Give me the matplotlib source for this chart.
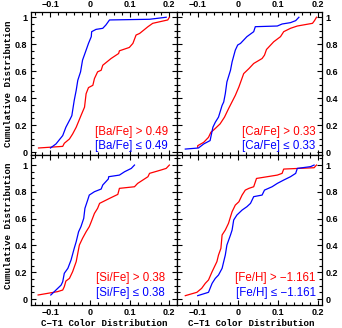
import numpy as np
import matplotlib
matplotlib.use("Agg")
import matplotlib.pyplot as plt
from matplotlib.ticker import MultipleLocator, FuncFormatter

# cumulative distributions (C-T1 colour, cumulative fraction)
ba_hi_x = [-0.130, -0.069, -0.065, -0.052, -0.044, -0.035, -0.023, -0.014, -0.010, -0.004, 0.007, 0.011,
           0.019, 0.028, 0.032, 0.053, 0.072, 0.074, 0.099, 0.108, 0.116, 0.125, 0.146, 0.158, 0.196, 0.200]
ba_hi_y = [0.030, 0.042, 0.065, 0.097, 0.134, 0.184, 0.270, 0.333, 0.433, 0.478, 0.495, 0.545,
           0.595, 0.607, 0.644, 0.694, 0.731, 0.751, 0.776, 0.806, 0.868, 0.880, 0.930, 0.955, 0.980, 1.000]
ba_lo_x = [-0.100, -0.086, -0.069, -0.061, -0.050, -0.046, -0.040, -0.035, -0.031, -0.024, -0.019, -0.010,
           -0.004, 0.003, 0.004, 0.015, 0.032, 0.040, 0.049, 0.150, 0.192]
ba_lo_y = [0.030, 0.060, 0.122, 0.184, 0.246, 0.270, 0.383, 0.458, 0.532, 0.595, 0.682, 0.756,
           0.806, 0.856, 0.893, 0.910, 0.918, 0.943, 0.980, 0.985, 1.000]

ca_hi_x = [-0.100, -0.100, -0.085, -0.073, -0.067, -0.060, -0.044, -0.033, -0.023, -0.006, 0.003, 0.015,
           0.028, 0.040, 0.061, 0.067, 0.072, 0.090, 0.107, 0.115, 0.132, 0.149, 0.187, 0.192, 0.197]
ca_hi_y = [0.035, 0.047, 0.072, 0.109, 0.147, 0.164, 0.209, 0.259, 0.321, 0.420, 0.483, 0.582,
           0.619, 0.657, 0.694, 0.719, 0.761, 0.818, 0.856, 0.893, 0.918, 0.935, 0.955, 0.975, 1.000]
ca_lo_x = [-0.131, -0.098, -0.085, -0.069, -0.062, -0.056, -0.048, -0.039, -0.035, -0.031, -0.027, -0.018,
           -0.014, -0.006, 0.000, 0.007, 0.023, 0.040, 0.044, 0.099, 0.111, 0.132, 0.145, 0.153]
ca_lo_y = [0.022, 0.030, 0.060, 0.085, 0.184, 0.221, 0.259, 0.346, 0.371, 0.433, 0.520, 0.607,
           0.669, 0.756, 0.794, 0.806, 0.856, 0.893, 0.930, 0.935, 0.950, 0.960, 0.975, 1.000]

si_hi_x = [-0.131, -0.082, -0.069, -0.065, -0.061, -0.052, -0.044, -0.035, -0.027, -0.019, -0.010, -0.002,
           0.003, 0.011, 0.019, 0.024, 0.049, 0.070, 0.074, 0.112, 0.120, 0.146, 0.150, 0.179, 0.192, 0.200]
si_hi_y = [0.030, 0.055, 0.067, 0.092, 0.134, 0.154, 0.204, 0.279, 0.403, 0.453, 0.502, 0.540,
           0.577, 0.639, 0.677, 0.714, 0.751, 0.781, 0.826, 0.838, 0.863, 0.913, 0.938, 0.963, 0.975, 1.000]
si_lo_x = [-0.099, -0.086, -0.073, -0.069, -0.065, -0.056, -0.048, -0.040, -0.035, -0.029, -0.023, -0.016,
           -0.013, -0.006, -0.002, 0.011, 0.028, 0.032, 0.046, 0.047, 0.074, 0.087, 0.104, 0.112]
si_lo_y = [0.030, 0.067, 0.104, 0.129, 0.192, 0.229, 0.291, 0.378, 0.428, 0.502, 0.540, 0.602,
           0.677, 0.739, 0.776, 0.801, 0.821, 0.851, 0.896, 0.913, 0.925, 0.950, 0.975, 1.000]

fe_hi_x = [-0.131, -0.102, -0.090, -0.081, -0.073, -0.064, -0.060, -0.052, -0.048, -0.042, -0.039, -0.031,
           -0.023, -0.018, -0.014, -0.006, 0.003, 0.011, 0.019, 0.028, 0.040, 0.047, 0.099, 0.111, 0.115,
           0.191, 0.197]
fe_hi_y = [0.025, 0.050, 0.080, 0.117, 0.142, 0.204, 0.229, 0.279, 0.328, 0.378, 0.478, 0.515,
           0.565, 0.614, 0.652, 0.701, 0.726, 0.776, 0.813, 0.826, 0.838, 0.900, 0.925, 0.938, 0.970,
           0.980, 1.000]
fe_lo_x = [-0.100, -0.073, -0.064, -0.056, -0.048, -0.039, -0.035, -0.031, -0.027, -0.018, -0.014, -0.010,
           -0.002, 0.011, 0.023, 0.032, 0.040, 0.061, 0.067, 0.086, 0.099, 0.115, 0.132, 0.145, 0.149,
           0.182, 0.191]
fe_lo_y = [0.025, 0.050, 0.117, 0.154, 0.179, 0.229, 0.279, 0.328, 0.403, 0.478, 0.515, 0.590,
           0.627, 0.664, 0.689, 0.714, 0.764, 0.776, 0.813, 0.838, 0.863, 0.888, 0.913, 0.938, 0.975,
           0.988, 1.000]

hi_labels = ["[Ba/Fe] > 0.49", "[Ca/Fe] > 0.33", "[Si/Fe] > 0.38", "[Fe/H] > \u22121.161"]
lo_labels = ["[Ba/Fe] \u2264 0.49", "[Ca/Fe] \u2264 0.33", "[Si/Fe] \u2264 0.38", "[Fe/H] \u2264 \u22121.161"]

panels = [(ba_hi_x, ba_hi_y, ba_lo_x, ba_lo_y),
          (ca_hi_x, ca_hi_y, ca_lo_x, ca_lo_y),
          (si_hi_x, si_hi_y, si_lo_x, si_lo_y),
          (fe_hi_x, fe_hi_y, fe_lo_x, fe_lo_y)]

W, H = 342, 328
fig = plt.figure(figsize=(W / 100, H / 100), dpi=100)

# axes boxes in pixels: (left, top, right, bottom)
boxes = [(31, 12, 177.3, 155), (177.3, 12, 322.3, 155),
         (31, 155, 177.3, 304.5), (177.3, 155, 322.3, 304.5)]
xlims = [(-0.149, 0.220), (-0.151, 0.2115), (-0.149, 0.220), (-0.151, 0.2115)]
ylims = [(-0.022, 1.039), (-0.022, 1.039), (-0.041, 1.075), (-0.041, 1.075)]
txt_x = [0.936, 0.954, 0.916, 0.954]
txt_y = [(0.161, 0.065), (0.161, 0.065), (0.175, 0.079), (0.175, 0.079)]

tick_font = dict(family="Liberation Sans", weight="bold", size=6.5)


def xfmt(v, pos):
    if abs(v) < 1e-9:
        return "0"
    return ("%.1f" % v).replace("-", "\u2212")


def yfmt(v, pos):
    if abs(v) < 1e-9:
        return "0"
    if abs(v - 1) < 1e-9:
        return "1"
    return "%.1f" % v


for i, (hx, hy, lx, ly) in enumerate(panels):
    l, t, r, b = boxes[i]
    ax = fig.add_axes([l / W, 1 - b / H, (r - l) / W, (b - t) / H])
    ax.plot(hx, hy, color="#ff0000", lw=0.9)
    ax.plot(lx, ly, color="#0000ff", lw=0.9)
    ax.set_xlim(*xlims[i])
    ax.set_ylim(*ylims[i])
    ax.xaxis.set_major_locator(MultipleLocator(0.1))
    ax.xaxis.set_minor_locator(MultipleLocator(0.02))
    ax.yaxis.set_major_locator(MultipleLocator(0.2))
    ax.yaxis.set_minor_locator(MultipleLocator(0.05))
    ax.xaxis.set_major_formatter(FuncFormatter(xfmt))
    ax.yaxis.set_major_formatter(FuncFormatter(yfmt))
    ax.tick_params(which="both", direction="in", top=True, right=True, width=0.8,
                   labeltop=(i < 2), labelbottom=(i >= 2),
                   labelleft=(i % 2 == 0), labelright=(i % 2 == 1))
    ax.tick_params(which="major", length=3.8, pad=2.5)
    ax.tick_params(which="minor", length=1.9)
    for lab in ax.get_xticklabels() + ax.get_yticklabels():
        lab.set_fontproperties(tick_font)
    for s in ax.spines.values():
        s.set_linewidth(0.9)
    ax.text(txt_x[i], txt_y[i][0], hi_labels[i], transform=ax.transAxes, ha="right", va="center",
            color="#ff0000", fontsize=8.3, family="Liberation Sans")
    ax.text(txt_x[i], txt_y[i][1], lo_labels[i], transform=ax.transAxes, ha="right", va="center",
            color="#0000ff", fontsize=8.3, family=["Liberation Sans", "DejaVu Sans"])

lab_font = dict(family="Liberation Mono", weight="bold", size=6.6)
fig.text(9 / W, 1 - 84 / H, "Cumulative Distribution", rotation=90, ha="center", va="center", **lab_font)
fig.text(9 / W, 1 - 226 / H, "Cumulative Distribution", rotation=90, ha="center", va="center", **lab_font)
fig.text(104 / W, 1 - 323.5 / H, "C\u2212T1 Color Distribution", ha="center", va="center", **lab_font)
fig.text(251 / W, 1 - 323.5 / H, "C\u2212T1 Color Distribution", ha="center", va="center", **lab_font)

fig.savefig("out.png", dpi=100)
